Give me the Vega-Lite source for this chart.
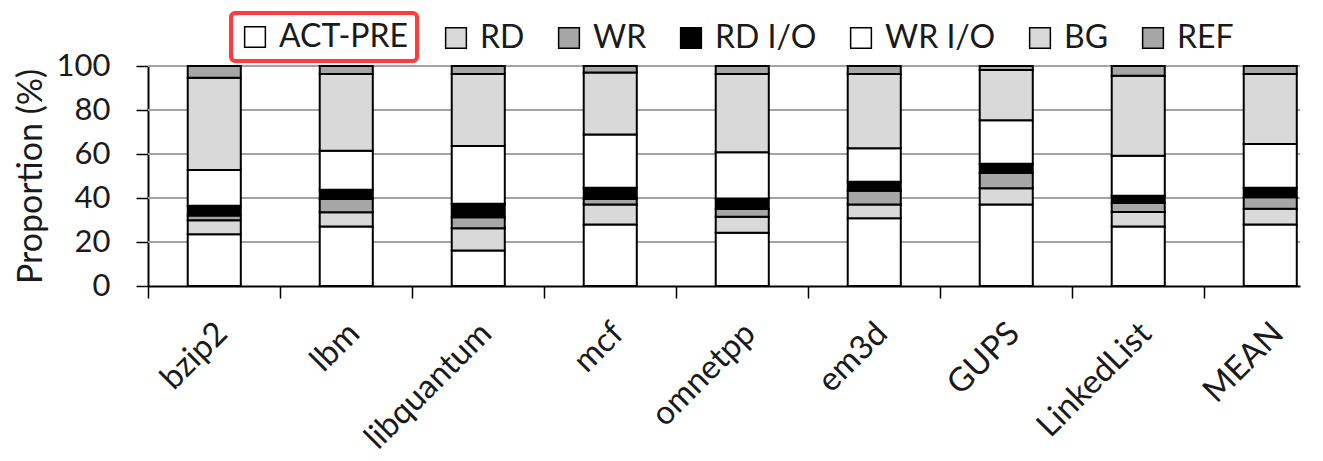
{
  "$schema": "https://vega.github.io/schema/vega-lite/v6.json",
  "width": 1152,
  "height": 220,
  "autosize": {"type": "none"},
  "padding": {"left": 148, "top": 66, "right": 23, "bottom": 175},
  "background": "white",
  "config": {
    "view": {"stroke": null},
    "font": "Lato",
    "axis": {"labelFont": "Lato", "titleFont": "Lato", "labelColor": "#1a1a1a", "titleColor": "#1a1a1a"},
    "legend": {"labelFont": "Lato", "strokeWidth": 4}
  },
  "datasets": {
    "grid": [{"g": 20}, {"g": 40}, {"g": 60}, {"g": 80}, {"g": 100}]
  },
  "data": {
    "values": [
      {"bench": "bzip2", "series": "ACT-PRE", "value": 23.5},
      {"bench": "bzip2", "series": "RD", "value": 6.4},
      {"bench": "bzip2", "series": "WR", "value": 2.1},
      {"bench": "bzip2", "series": "RD I/O", "value": 4.5},
      {"bench": "bzip2", "series": "WR I/O", "value": 16.2},
      {"bench": "bzip2", "series": "BG", "value": 42.0},
      {"bench": "bzip2", "series": "REF", "value": 5.3},
      {"bench": "lbm", "series": "ACT-PRE", "value": 27.1},
      {"bench": "lbm", "series": "RD", "value": 6.4},
      {"bench": "lbm", "series": "WR", "value": 6.0},
      {"bench": "lbm", "series": "RD I/O", "value": 4.3},
      {"bench": "lbm", "series": "WR I/O", "value": 17.7},
      {"bench": "lbm", "series": "BG", "value": 34.9},
      {"bench": "lbm", "series": "REF", "value": 3.6},
      {"bench": "libquantum", "series": "ACT-PRE", "value": 16.1},
      {"bench": "libquantum", "series": "RD", "value": 10.1},
      {"bench": "libquantum", "series": "WR", "value": 5.0},
      {"bench": "libquantum", "series": "RD I/O", "value": 6.2},
      {"bench": "libquantum", "series": "WR I/O", "value": 26.2},
      {"bench": "libquantum", "series": "BG", "value": 32.8},
      {"bench": "libquantum", "series": "REF", "value": 3.6},
      {"bench": "mcf", "series": "ACT-PRE", "value": 27.9},
      {"bench": "mcf", "series": "RD", "value": 9.2},
      {"bench": "mcf", "series": "WR", "value": 2.4},
      {"bench": "mcf", "series": "RD I/O", "value": 5.2},
      {"bench": "mcf", "series": "WR I/O", "value": 24.2},
      {"bench": "mcf", "series": "BG", "value": 28.2},
      {"bench": "mcf", "series": "REF", "value": 2.9},
      {"bench": "omnetpp", "series": "ACT-PRE", "value": 24.2},
      {"bench": "omnetpp", "series": "RD", "value": 7.3},
      {"bench": "omnetpp", "series": "WR", "value": 3.5},
      {"bench": "omnetpp", "series": "RD I/O", "value": 4.8},
      {"bench": "omnetpp", "series": "WR I/O", "value": 21.0},
      {"bench": "omnetpp", "series": "BG", "value": 35.6},
      {"bench": "omnetpp", "series": "REF", "value": 3.6},
      {"bench": "em3d", "series": "ACT-PRE", "value": 30.8},
      {"bench": "em3d", "series": "RD", "value": 6.2},
      {"bench": "em3d", "series": "WR", "value": 6.3},
      {"bench": "em3d", "series": "RD I/O", "value": 4.1},
      {"bench": "em3d", "series": "WR I/O", "value": 15.2},
      {"bench": "em3d", "series": "BG", "value": 33.8},
      {"bench": "em3d", "series": "REF", "value": 3.6},
      {"bench": "GUPS", "series": "ACT-PRE", "value": 37.1},
      {"bench": "GUPS", "series": "RD", "value": 7.3},
      {"bench": "GUPS", "series": "WR", "value": 7.0},
      {"bench": "GUPS", "series": "RD I/O", "value": 4.2},
      {"bench": "GUPS", "series": "WR I/O", "value": 19.7},
      {"bench": "GUPS", "series": "BG", "value": 22.9},
      {"bench": "GUPS", "series": "REF", "value": 1.8},
      {"bench": "LinkedList", "series": "ACT-PRE", "value": 27.1},
      {"bench": "LinkedList", "series": "RD", "value": 6.5},
      {"bench": "LinkedList", "series": "WR", "value": 4.1},
      {"bench": "LinkedList", "series": "RD I/O", "value": 3.3},
      {"bench": "LinkedList", "series": "WR I/O", "value": 18.2},
      {"bench": "LinkedList", "series": "BG", "value": 36.4},
      {"bench": "LinkedList", "series": "REF", "value": 4.4},
      {"bench": "MEAN", "series": "ACT-PRE", "value": 28.0},
      {"bench": "MEAN", "series": "RD", "value": 7.1},
      {"bench": "MEAN", "series": "WR", "value": 5.2},
      {"bench": "MEAN", "series": "RD I/O", "value": 4.4},
      {"bench": "MEAN", "series": "WR I/O", "value": 19.8},
      {"bench": "MEAN", "series": "BG", "value": 31.9},
      {"bench": "MEAN", "series": "REF", "value": 3.6}
    ]
  },
  "layer": [
    {
      "data": {"name": "grid"},
      "mark": {"type": "rule", "color": "#a3a3a3", "strokeWidth": 1.8},
      "encoding": {
        "y": {"field": "g", "type": "quantitative", "scale": {"domain": [0, 100], "nice": false},
          "title": "Proportion (%)",
          "axis": {"values": [0, 10, 20, 30, 40, 50, 60, 70, 80, 90, 100], "labelExpr": "datum.value % 20 === 0 ? datum.label : ''", "labelFontSize": 31, "labelPadding": 26, "tickSize": 12, "tickWidth": 1.5, "tickColor": "black", "domainColor": "black", "domainWidth": 2, "grid": false, "titleFontSize": 34, "titleFontWeight": "normal", "titlePadding": 8}
        }
      }
    },
    {
      "transform": [
        {"calculate": "indexof(['ACT-PRE','RD','WR','RD I/O','WR I/O','BG','REF'], datum.series)", "as": "ord"},
        {"stack": "value", "groupby": ["bench"], "sort": [{"field": "ord", "order": "ascending"}], "as": ["y0", "y1"]},
        {"filter": "datum.series === 'ACT-PRE'"}
      ],
      "mark": {"type": "bar", "stroke": "black", "strokeWidth": 2},
      "encoding": {
        "x": {"field": "bench", "type": "nominal", "sort": null, "title": null,
          "scale": {"type": "band", "domain": ["bzip2", "lbm", "libquantum", "mcf", "omnetpp", "em3d", "GUPS", "LinkedList", "MEAN"], "paddingInner": 0.598, "paddingOuter": 0.1627, "align": 0.925, "round": false},
          "axis": {"bandPosition": -0.7446, "labelOffset": 8, "labelAngle": -45, "labelAlign": "right", "labelBaseline": "middle", "labelFontSize": 33, "labelPadding": 30, "tickSize": 12, "tickWidth": 1.5, "tickColor": "black", "domainColor": "black", "domainWidth": 2, "grid": false}
        },
        "y": {"field": "y0", "type": "quantitative", "title": "Proportion (%)"},
        "y2": {"field": "y1"},
        "fill": {"field": "series", "type": "nominal",
          "scale": {"domain": ["ACT-PRE"], "range": ["#ffffff"]},
          "legend": {"orient": "none", "legendX": 83, "legendY": -53, "title": null, "direction": "horizontal",
            "strokeColor": "#ff3b3b", "cornerRadius": 4, "padding": 8, "fillColor": "white",
            "symbolType": "square", "symbolSize": 430, "symbolStrokeColor": "black", "symbolStrokeWidth": 1.5,
            "labelFontSize": 32, "labelColor": "#1a1a1a", "labelOffset": 8, "labelExpr": "datum.label + '\u00a0\u00a0'"}
        }
      }
    },
    {
      "transform": [
        {"calculate": "indexof(['ACT-PRE','RD','WR','RD I/O','WR I/O','BG','REF'], datum.series)", "as": "ord"},
        {"stack": "value", "groupby": ["bench"], "sort": [{"field": "ord", "order": "ascending"}], "as": ["y0", "y1"]},
        {"filter": "datum.series !== 'ACT-PRE'"}
      ],
      "mark": {"type": "bar", "stroke": "black", "strokeWidth": 2},
      "encoding": {
        "x": {"field": "bench", "type": "nominal", "sort": null},
        "y": {"field": "y0", "type": "quantitative", "title": "Proportion (%)"},
        "y2": {"field": "y1"},
        "fill": {"field": "series", "type": "nominal",
          "scale": {"domain": ["RD", "WR", "RD I/O", "WR I/O", "BG", "REF"], "range": ["#d9d9d9", "#a6a6a6", "#000000", "#ffffff", "#d9d9d9", "#a6a6a6"]},
          "legend": {"orient": "none", "legendX": 292, "legendY": -44, "title": null, "direction": "horizontal", "columns": 6, "columnPadding": 28, "padding": 0, "strokeColor": null,
            "symbolType": "square", "symbolSize": 430, "symbolStrokeColor": "black", "symbolStrokeWidth": 1.5,
            "labelFontSize": 32, "labelColor": "#1a1a1a", "labelOffset": 8}
        }
      }
    }
  ],
  "resolve": {"scale": {"fill": "independent"}, "legend": {"fill": "independent"}}
}
